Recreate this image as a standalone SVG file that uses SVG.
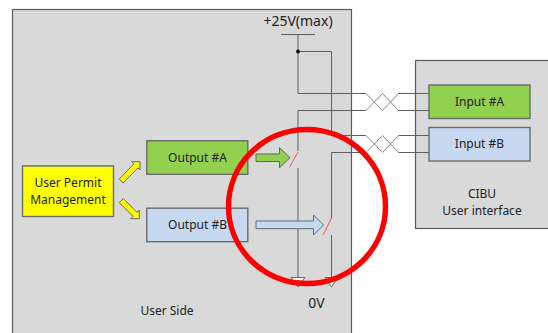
<svg xmlns="http://www.w3.org/2000/svg" width="548" height="333" viewBox="0 0 548 333">
<style>
text{font-family:"Noto Sans","Open Sans",sans-serif;font-size:12px;fill:#222;text-anchor:middle}
.big{font-size:14px}
.panel{fill:#d9d9d9;stroke:#5a5a5a;stroke-width:1.2}
.box{stroke:#6b6b6b;stroke-width:1.4}
.g{fill:#92d050}.b{fill:#c6d9f1}.y{fill:#ffff00}
.w{fill:none;stroke:#5f5f5f;stroke-width:1}
.x{fill:none;stroke:#8a8a8a;stroke-width:1}
.r{stroke:#ff5050;stroke-width:1;fill:none}
.a{stroke:#5a6a50;stroke-width:1}
</style>
<g id="user-side"><rect class="panel" x="12.5" y="9.5" width="339" height="340"/><text x="167" y="315">User Side</text></g>
<g id="cibu"><rect class="panel" x="415.5" y="60.5" width="150" height="168"/><text x="482" y="198">CIBU</text><text x="482" y="215">User interface</text></g>
<g id="connectors">
<path class="w" d="M281 34.500H315M298 34.500V93.500H366M298 51.500H331.500V135.500M298 110.500H366M298 110.500V151M298 168V281M331.500 152.500H366M331.500 152.500V218M331.500 235V281M331.500 135.500H366"/>
<path class="x" d="M366 93.500L382.500 110.500L398.500 93.500M366 110.500L382.500 93.500L398.500 110.500M366 135.500L382.500 152.500L398.500 135.500M366 152.500L382.500 135.500L398.500 152.500"/>
<path class="w" d="M398.500 93.500H429M398.500 110.500H429M398.500 135.500H429M398.500 152.500H429"/>
<circle cx="298" cy="51.500" r="2" fill="#111"/>
<path class="r" d="M289.500 167.500L298 152M323 235L331.500 218"/>
<path d="M291 277.500H305L298 287Z" fill="#fff" stroke="#666"/>
<path d="M325 277.500H338L331.500 287Z" fill="#fff" stroke="#666"/>
<path class="a g" d="M256 154H279.500V147.700L290 157.700L279.500 167.700V161.500H256Z"/>
<path d="M256 221H313.500V215L323.500 225L313.500 235V228.700H256Z" class="b" stroke="#5a6a80"/>
<path class="y" stroke="#666" d="M119.300 179.200L133.850 163.850L131.700 161.700H140V170L137.850 167.850L123.200 183Z"/>
<path class="y" stroke="#666" d="M123.300 198.600L137 212.350L139.300 210V218.700H130.700L133 216.350L119.300 202.600Z"/>
</g>
<g id="output-a"><rect class="box g" x="146.800" y="140.800" width="101" height="33.500"/><text x="197.500" y="161.500">Output #A</text></g>
<g id="output-b"><rect class="box b" x="146.800" y="208.200" width="101" height="33.500"/><text x="197.500" y="229">Output #B</text></g>
<g id="user-permit"><rect class="box y" x="22.500" y="166" width="91" height="50.500"/><text x="68" y="187">User Permit</text><text x="68" y="204">Management</text></g>
<g id="input-a"><rect class="box g" x="429" y="85" width="101" height="33.500"/><text x="479.500" y="106">Input #A</text></g>
<g id="input-b"><rect class="box b" x="429" y="127.500" width="101" height="33.500"/><text x="479.500" y="148">Input #B</text></g>
<text class="big" x="298" y="26">+25V(max)</text>
<text class="big" x="316.500" y="308">0V</text>
<ellipse cx="307" cy="206.500" rx="78.500" ry="77" fill="none" stroke="#ff0000" stroke-width="5.500"/>
</svg>
